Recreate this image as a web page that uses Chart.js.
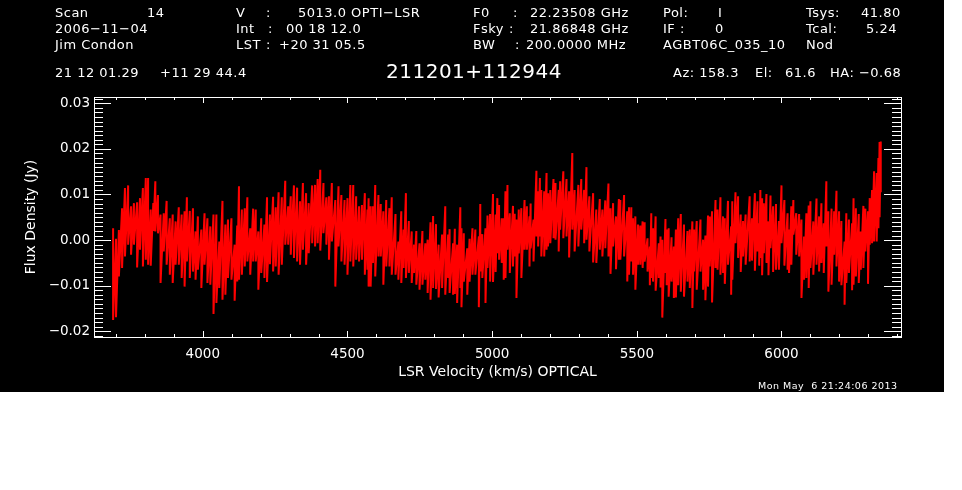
<!DOCTYPE html>
<html>
<head>
<meta charset="UTF-8">
<title>211201+112944</title>
<script src="https://cdn.jsdelivr.net/npm/chart.js@4/dist/chart.umd.min.js"></script>
<style>
    html, body { margin: 0; padding: 0; background: #fff; }
    #stage { position: absolute; left: 0; top: 0; width: 944px; height: 392px; background: #000; overflow: hidden; }
    #plot { position: absolute; left: 0; top: 0; }
    .lbl { position: absolute; color: #fff; font-family: "DejaVu Sans", sans-serif; font-size: 13px; line-height: 16px;
           letter-spacing: 0.5px; white-space: pre; transform: translateY(-50%); }
</style>
</head>
<body>
<div id="stage"><canvas id="plot" width="944" height="392"></canvas></div>

<script>
// channel velocity (km/s)
var velocity = [
    3690,3700,3710,3721,3731,3742,3752,3762,3773,3783,3793,3803,3811,3820,3829,3836,3845,3854,3865,3875,3886,3896,
    3906,3917,3927,3937,3945,3955,3966,3975,3983,3995,4006,4016,4026,4037,4047,4057,4068,4078,4087,4099,4110,4119,
    4125,4135,4145,4154,4164,4174,4183,4192,4202,4213,4222,4232,4243,4252,4262,4273,4285,4295,4304,4315,4326,4336,4346,
    4357,4366,4378,4388,4397,4406,4417,4427,4436,4446,4458,4469,4479,4490,4500,4510,4520,4530,4540,4550,4560,4569,
    4573,4580,4588,4596,4607,4615,4624,4634,4645,4653,4666,4676,4686,4694,4702,4712,4722,4730,4738,4749,4759,4769,4777,4787,4796,
    4806,4815,4827,4838,4848,4853,4865,4871,4879,4890,4894,4902,4914,4922,4932,4942,4954,4959,4966,4977,4984,4993,5003,5012,5018,
    5024,5033,5040,5046,5053,5061,5072,5078,5084,5092,5101,5112,5120,5129,5133,5143,5153,5159,5165,5170,5180,5188,5193,5201,5212,5219,
    5230,5235,5246,5257,5266,5277,5285,5298,5308,5318,5326,5336,5349,5360,5372,5381,5391,5402,5409,5418,5428,5438,5443,5456,5467,
    5473,5481,5487,5495,5504,5512,5520,5527,5537,5545,5550,5556,5565,5576,5582,5588,5599,5603,5610,5620,5628,5635,5643,5652,5663,5675,
    5683,5692,5698,5707,5720,5729,5737,5746,5752,5760,5772,5779,5789,5798,5804,5815,5826,5830,5841,5850,5859,5867,5876,5890,5898,5908,5917,
    5923,5927,5933,5939,5948,5955,5962,5971,5981,5991,6000,6010,6021,6026,6034,6041,6051,6061,6069,6078,6086,6094,6100,6110,6121,6130,
    6138,6146,6155,6162,6173,6182,6190,6199,6207,6218,6224,6233,6244,6249,6257,6267,6274,6283,6290,6299,6305,6313,6320,6329,6335,6339,6343
];
// top of the trace in each channel (Jy)
var fluxHigh = [
    .0026,.0003,.0022,.0070,.0114,.0120,.0074,.0081,.0083,.0092,.0114,.0136,.0136,.0067,.0081,.0129,.0099,.0056,.0059,.0086,.0048,.0056,
    .0041,.0072,.0056,.0063,.0094,.0064,.0070,.0019,.0052,.0023,.0059,.0048,.0030,.0056,.0056,-.0003,.0086,.0034,.0045,.0048,-.0010,.0032,
    .0118,.0067,.0070,.0094,.0026,.0069,.0067,.0019,.0048,.0034,.0094,.0056,.0095,.0072,.0105,.0094,.0130,.0074,.0096,.0120,.0115,.0085,.0125,
    .0103,.0081,.0120,.0121,.0134,.0154,.0125,.0094,.0096,.0125,.0088,.0118,.0099,.0088,.0092,.0121,.0121,.0096,.0074,.0077,.0103,.0067,
    .0092,.0074,.0074,.0121,.0099,.0079,.0063,.0088,.0070,.0094,.0057,-.0003,.0063,.0023,.0103,.0042,.0019,-.0010,.0020,-.0007,.0020,-.0007,.0001,.0039,.0053,
    .0035,-.0010,.0012,.0074,.0012,.0024,-.0007,.0025,-.0010,.0072,.0026,.0015,-.0018,.0003,.0026,.0023,.0008,.0079,.0013,.0026,.0054,.0057,.0101,.0056,.0092,
    .0077,.0048,.0048,.0107,.0121,.0059,.0075,.0058,.0045,.0067,.0070,.0088,.0074,.0052,.0080,.0045,.0152,.0107,.0136,.0110,.0107,.0147,.0103,.0110,.0134,.0125,
    .0110,.0129,.0151,.0134,.0107,.0191,.0110,.0121,.0134,.0110,.0160,.0096,.0103,.0067,.0090,.0067,.0087,.0124,.0070,.0081,.0052,.0090,.0088,.0099,.0063,
    .0072,.0072,.0048,.0052,.0034,.0032,.0041,.0039,.0004,-.0014,.0059,.0026,.0052,-.0007,.0008,.0001,.0046,.0023,.0026,.0006,-.0014,.0023,.0048,.0057,.0034,.0020,
    .0023,.0041,.0023,.0042,.0045,.0001,.0010,.0054,.0052,.0063,.0088,.0067,.0094,.0052,.0048,.0086,.0030,.0085,.0105,.0096,.0056,.0042,.0056,.0096,.0048,.0103,.0085,
    .0037,.0110,.0092,.0081,.0101,.0041,.0098,.0074,.0079,.0042,.0120,.0088,.0059,.0023,.0074,.0088,.0059,.0057,.0045,.0008,.0059,.0076,.0085,.0041,.0091,.0052,
    .0081,.0037,.0129,.0063,.0069,.0063,.0108,.0063,.0042,-.0003,.0059,.0045,.0037,.0092,.0070,.0057,.0019,.0075,.0069,.0063,.0092,.0110,.0151,.0147,.0180,.0215,.0216
];
// bottom of the trace in each channel (Jy)
var fluxLow = [
    -.0175,-.0169,-.0080,-.0061,-.0036,-.0010,-.0032,-.0010,-.0060,-.0021,-.0058,-.0043,-.0054,-.0056,.0020,.0019,.0015,-.0094,-.0025,-.0054,-.0076,-.0094,
    -.0054,-.0054,-.0083,-.0102,-.0047,-.0083,-.0069,-.0087,-.0065,-.0105,-.0054,-.0094,-.0098,-.0162,-.0138,-.0105,-.0131,-.0120,-.0083,-.0087,-.0133,-.0091,
    -.0087,-.0076,-.0058,-.0047,-.0076,-.0047,-.0047,-.0109,-.0072,-.0083,-.0092,-.0053,-.0069,-.0058,-.0076,-.0054,-.0010,-.0010,-.0032,-.0039,-.0047,-.0054,-.0021,
    -.0054,-.0029,-.0007,-.0014,-.0007,-.0023,.0015,-.0010,-.0043,-.0003,-.0102,-.0014,-.0047,-.0054,-.0076,-.0047,-.0058,-.0043,-.0047,-.0043,-.0076,-.0065,
    -.0102,-.0102,-.0050,-.0080,-.0036,-.0036,-.0098,-.0058,-.0058,-.0076,-.0076,-.0087,-.0094,-.0061,-.0083,-.0072,-.0094,-.0072,-.0098,-.0109,-.0098,-.0087,-.0116,-.0131,-.0105,
    -.0107,-.0126,-.0105,-.0120,-.0083,-.0116,-.0120,-.0118,-.0138,-.0105,-.0147,-.0091,-.0120,-.0091,-.0076,-.0076,-.0147,-.0069,-.0083,-.0138,-.0061,-.0091,-.0092,-.0070,-.0029,
    -.0043,-.0050,-.0087,-.0083,-.0021,-.0072,-.0058,-.0036,-.0127,-.0029,-.0083,-.0021,-.0021,-.0058,-.0018,-.0047,.0008,-.0014,.0008,-.0036,-.0036,-.0021,-.0014,-.0007,.0004,.0001,
    -.0025,.0023,.0004,.0008,-.0038,.0023,-.0025,-.0014,.0023,-.0007,.0001,-.0025,-.0049,-.0050,-.0021,-.0036,-.0018,-.0036,-.0074,-.0014,-.0064,-.0043,-.0043,-.0036,-.0091,
    -.0076,-.0047,-.0076,-.0109,-.0054,-.0054,-.0061,-.0047,-.0069,-.0099,-.0083,-.0091,-.0111,-.0083,-.0104,-.0170,-.0072,-.0099,-.0124,-.0091,-.0127,-.0126,-.0099,-.0113,-.0124,-.0091,
    -.0105,-.0149,-.0069,-.0109,-.0069,-.0109,-.0132,-.0102,-.0058,-.0137,-.0061,-.0065,-.0076,-.0072,-.0096,-.0054,-.0120,-.0087,-.0007,-.0039,-.0070,-.0036,-.0054,-.0047,-.0045,-.0067,-.0025,
    -.0056,-.0039,-.0077,-.0029,-.0050,-.0077,-.0018,-.0070,-.0065,-.0065,-.0007,-.0056,-.0065,-.0072,-.0054,.0012,-.0032,-.0036,-.0127,-.0087,-.0083,-.0105,-.0061,-.0076,-.0054,-.0069,
    -.0050,-.0072,-.0014,-.0113,-.0098,-.0032,-.0058,-.0091,-.0099,-.0142,-.0094,-.0072,-.0110,-.0098,-.0080,-.0094,-.0065,-.0061,-.0025,-.0096,-.0010,-.0007,-.0003,-.0003,.0026,.0050,.0105
];

var xMajorTicks = [4000, 4500, 5000, 5500, 6000];
var xMinorTicks = [3700,3800,3900,4100,4200,4300,4400,4600,4700,4800,4900,5100,5200,5300,5400,5600,5700,5800,5900,6100,6200,6300,6400];
var yMajorTicks = [0.03, 0.02, 0.01, 0, -0.01, -0.02];
var yMinorTicks = [0.031,0.029,0.028,0.027,0.026,0.025,0.024,0.023,0.022,0.021,0.019,0.018,0.017,0.016,0.015,0.014,0.013,0.012,0.011,
    0.009,0.008,0.007,0.006,0.005,0.004,0.003,0.002,0.001,-0.001,-0.002,-0.003,-0.004,-0.005,-0.006,-0.007,-0.008,-0.009,
    -0.011,-0.012,-0.013,-0.014,-0.015,-0.016,-0.017,-0.018,-0.019,-0.021];

// header block: text, left, middle
var headerLabels = [
    ["Scan", 55, 13], ["14", 147, 13], ["2006\u221211\u221204", 55, 29], ["Jim Condon", 55, 45],
    ["V", 236, 13], [":", 266, 13], ["5013.0 OPTI\u2212LSR", 298, 13],
    ["Int", 236, 29], [":", 268, 29], ["00 18 12.0", 286, 29],
    ["LST", 236, 45], [":", 266, 45], ["+20 31 05.5", 279, 45],
    ["F0", 473, 13], [":", 513, 13], ["22.23508 GHz", 530, 13],
    ["Fsky", 473, 29], [":", 509, 29], ["21.86848 GHz", 530, 29],
    ["BW", 473, 45], [":", 515, 45], ["200.0000 MHz", 526, 45],
    ["Pol:", 663, 13], ["I", 718, 13], ["IF :", 663, 29], ["0", 715, 29], ["AGBT06C_035_10", 663, 45],
    ["Tsys:", 806, 13], ["41.80", 861, 13], ["Tcal:", 806, 29], ["5.24", 866, 29], ["Nod", 806, 45],
    ["21 12 01.29", 55, 73], ["+11 29 44.4", 160, 73],
    ["Az: 158.3", 673, 73], ["El:", 755, 73], ["61.6", 785, 73], ["HA: \u22120.68", 830, 73]
];
var sourceName = "211201+112944";
var dateStamp = "Mon May  6 21:24:06 2013";

function addLabel(text, x, y, extra) {
    var el = document.createElement("div");
    el.className = "lbl";
    el.textContent = text;
    el.style.left = x + "px";
    el.style.top = y + "px";
    if (extra) Object.assign(el.style, extra);
    document.getElementById("stage").appendChild(el);
}
headerLabels.forEach(function (h) { addLabel(h[0], h[1], h[2]); });
addLabel(sourceName, 386, 71, {fontSize: "20px", lineHeight: "24px", letterSpacing: "0.5px"});
addLabel(dateStamp, 758, 386, {fontSize: "9.5px", letterSpacing: "0.5px", lineHeight: "12px"});

// each channel is drawn as a stroke from its top to its bottom
var trace = [];
for (var i = 0; i < velocity.length; i++) {
    trace.push({x: velocity[i], y: fluxHigh[i]});
    trace.push({x: velocity[i], y: fluxLow[i]});
}

// IDL style box: ticks on all four sides pointing inwards
var boxTicks = {
    id: "boxTicks",
    afterDraw: function (chart) {
        var c = chart.ctx, a = chart.chartArea, sx = chart.scales.x, sy = chart.scales.y;
        c.save();
        c.strokeStyle = "#fff";
        c.lineWidth = 1;
        c.strokeRect(Math.round(a.left) + .5, Math.round(a.top) + .5, Math.round(a.right - a.left), Math.round(a.bottom - a.top));
        function xTick(v, len) {
            var p = Math.round(sx.getPixelForValue(v)) + .5;
            c.moveTo(p, a.bottom); c.lineTo(p, a.bottom - len);
            c.moveTo(p, a.top); c.lineTo(p, a.top + len);
        }
        function yTick(v, len) {
            var p = Math.round(sy.getPixelForValue(v)) + .5;
            c.moveTo(a.left, p); c.lineTo(a.left + len, p);
            c.moveTo(a.right, p); c.lineTo(a.right - len, p);
        }
        c.beginPath();
        xMajorTicks.forEach(function (v) { xTick(v, 6); });
        xMinorTicks.forEach(function (v) { xTick(v, 3); });
        yMajorTicks.forEach(function (v) { yTick(v, 17); });
        yMinorTicks.forEach(function (v) { yTick(v, 9); });
        c.stroke();
        c.restore();
    }
};

var tickFont = {family: "'DejaVu Sans', sans-serif", size: 13.5};
var titleFont = {family: "'DejaVu Sans', sans-serif", size: 14};

new Chart(document.getElementById("plot"), {
    type: "scatter",
    data: {
        datasets: [{
            data: trace,
            showLine: true,
            borderColor: "#ff0000",
            borderWidth: 2,
            borderJoinStyle: "bevel",
            pointRadius: 0,
            tension: 0
        }]
    },
    options: {
        responsive: false,
        animation: false,
        devicePixelRatio: 1,
        layout: {padding: {left: 0, top: 97, right: 43, bottom: 0}},
        plugins: {legend: {display: false}, tooltip: {enabled: false}},
        scales: {
            x: {
                type: "linear",
                min: 3624,
                max: 6413,
                grid: {display: false, tickLength: 0},
                border: {display: false},
                afterBuildTicks: function (s) { s.ticks = xMajorTicks.map(function (v) { return {value: v}; }); },
                afterFit: function (s) { s.height = 55; },
                ticks: {
                    color: "#fff", font: tickFont, padding: 9, maxRotation: 0,
                    callback: function (v) { return String(v); }
                },
                title: {
                    display: true, text: "LSR Velocity (km/s) OPTICAL", color: "#fff", font: titleFont,
                    padding: {top: 1, bottom: 11}
                }
            },
            y: {
                min: -0.02125,
                max: 0.03138,
                grid: {display: false, tickLength: 0},
                border: {display: false},
                afterBuildTicks: function (s) { s.ticks = yMajorTicks.map(function (v) { return {value: v}; }); },
                afterFit: function (s) { s.width = 94; },
                ticks: {
                    color: "#fff", font: tickFont, padding: 4,
                    callback: function (v) { return v.toFixed(2).replace("-", "\u2212"); }
                },
                title: {
                    display: true, text: "Flux Density (Jy)", color: "#fff", font: titleFont,
                    padding: {top: 23, bottom: 6}
                }
            }
        }
    },
    plugins: [boxTicks]
});
</script>
</body>
</html>
